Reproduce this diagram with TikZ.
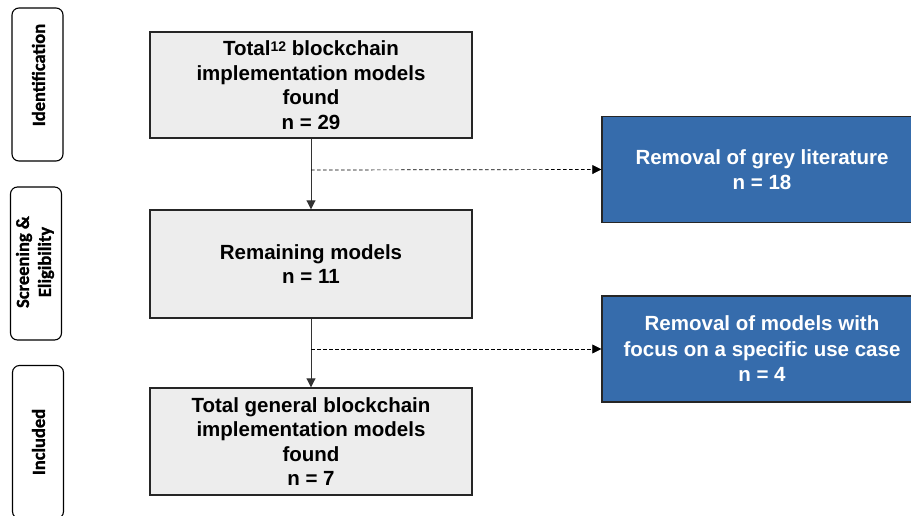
\documentclass[tikz,border=0pt]{standalone}
\usepackage{fontspec}
\setmainfont{Liberation Sans}
\newfontfamily\carl{Carlito Bold}[FakeBold=1.2]
\usetikzlibrary{arrows.meta}
\definecolor{boxgrey}{HTML}{EDEDED}
\definecolor{boxblue}{HTML}{366CAC}
\begin{document}
\begin{tikzpicture}[x=1pt,y=-1pt,
  greybox/.style={draw=black!85, line width=1.4pt, fill=boxgrey, align=center, inner sep=0pt,
    font=\fontsize{20.5}{24.5}\selectfont\bfseries, minimum width=322pt},
  bluebox/.style={draw=black!85, line width=1.4pt, fill=boxblue, text=white, align=center, inner sep=0pt,
    font=\fontsize{20.5}{25.5}\selectfont\bfseries, minimum width=320pt, minimum height=106pt},
  phase/.style={draw=black, line width=1.1pt, rounded corners=7pt, rotate=90, inner sep=0pt,
    minimum width=153pt, minimum height=51pt},
  phasetxt/.style={rotate=90, align=center, inner sep=0pt,
    font=\carl\fontsize{18.5}{22}\selectfont},
  flow/.style={draw=black!80, line width=0.9pt, -{Triangle[width=9pt,length=9pt]}},
  side/.style={draw=black, line width=0.7pt, dash pattern=on 3.5pt off 2.5pt, -{Triangle[width=9pt,length=9pt]}}
]
\useasboundingbox (0,0) rectangle (911,515);

\node[phase] (p1) at (37.5,84.5) {};
\node[phase] (p2) at (36,263.5) {};
\node[phase] (p3) at (38,442) {};
\node[phasetxt] (t1) at (38.5,75) {Identification};
\node[phasetxt] (t2) at (35,262) {Screening \&\\Eligibility};
\node[phasetxt] (t3) at (38.5,442) {Included};

\node[greybox, minimum height=106pt] (b1) at (311,85) {Total{\fontsize{14}{14}\selectfont\raisebox{4pt}{12}} blockchain\\implementation models\\found\\n = 29};
\node[greybox, minimum height=108pt] (b2) at (311,264) {Remaining models\\n = 11};
\node[greybox, minimum height=107pt] (b3) at (311,441.5) {Total general blockchain\\implementation models\\found\\n = 7};

\node[bluebox] (r1) at (762,169.5) {Removal of grey literature\\n = 18};
\node[bluebox] (r2) at (762,349) {Removal of models with\\focus on a specific use case\\n = 4};

\coordinate (d1) at (311,170);
\coordinate (d2) at (311,349);

\draw[flow] (b1.south) -- (b2.north);
\draw[flow] (b2.south) -- (b3.north);
\draw[side] (d1) -- (r1.west);
\draw[side] (d2) -- (r2.west);
\end{tikzpicture}
\end{document}
